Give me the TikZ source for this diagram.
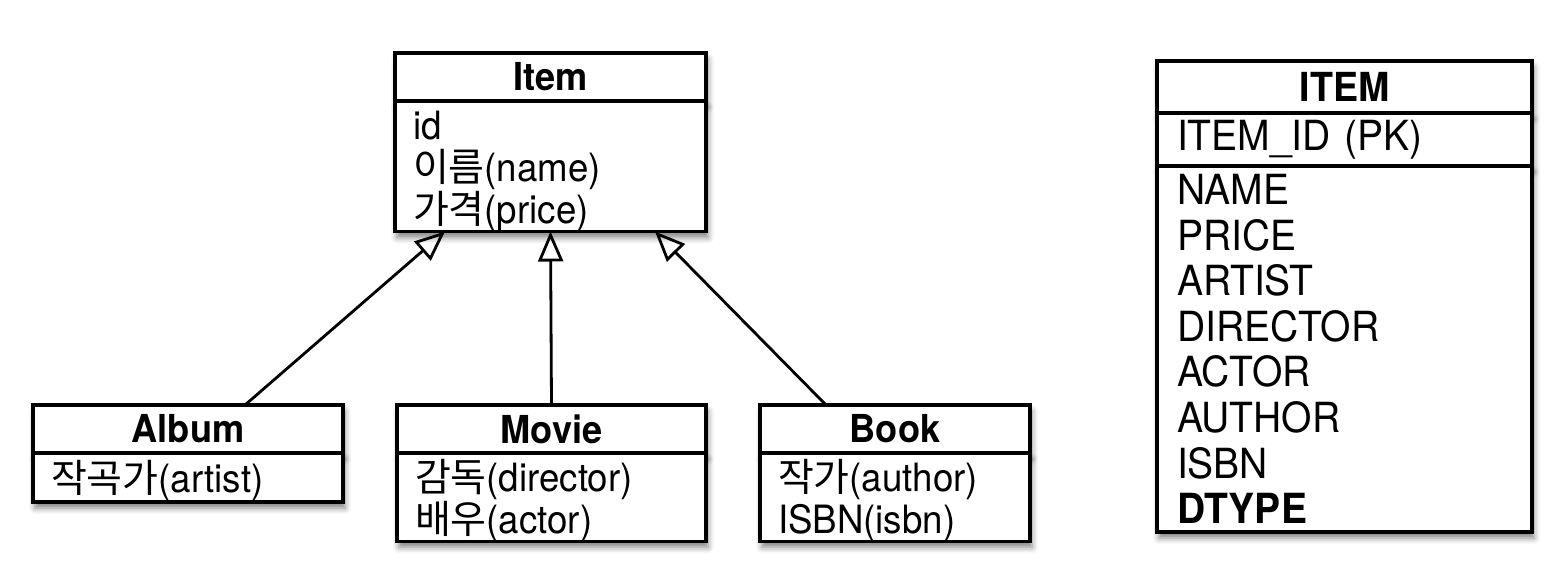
\documentclass[tikz,border=0pt]{standalone}
\usepackage{fontspec}
\setmainfont[FakeStretch=0.94]{TeX Gyre Heros}
\newfontfamily\kr{Noto Sans CJK KR}
\usetikzlibrary{arrows.meta,shadows.blur}
\tikzset{
  box/.style={draw=black, line width=3.2pt, fill=white, anchor=north west,
    inner sep=0pt, outer sep=0pt,
    blur shadow={shadow xshift=2pt, shadow yshift=-6pt, shadow blur radius=6pt, shadow opacity=50}},
  head/.style={box, font=\fontsize{38.5}{42}\selectfont\bfseries, align=center, minimum height=48pt},
  thead/.style={box, font=\fontsize{40}{43}\selectfont\bfseries, align=center, minimum height=52pt},
  body/.style={box, font=\fontsize{39}{42}\selectfont, align=left, inner xsep=18pt,
    execute at begin node={\rule{0pt}{38pt}}},
  tbody/.style={box, font=\fontsize{41.5}{45.6}\selectfont, align=left, inner xsep=20pt},
  gen/.style={draw=black, line width=2.8pt, -{Triangle[open, length=30pt, width=25pt]}}
}
\begin{document}
\begin{tikzpicture}[x=1pt,y=-1pt]
\useasboundingbox (0,0) rectangle (1560,576);
% Item class
\node[head, minimum width=311pt] (itemH) at (395,53) {Item};
\node[body, text width=275pt, minimum height=126pt] (itemB) at (395,101)
  {id\\{\kr 이름}(name)\\{\kr 가격}(price)};
% Album
\node[head, minimum width=310pt] (albumH) at (33,405) {Album};
\node[body, text width=274pt, minimum height=49pt] (albumB) at (33,453)
  {{\kr 작곡가}(artist)};
% Movie
\node[head, minimum width=309pt] (movieH) at (397,405) {Movie};
\node[body, text width=273pt, minimum height=84pt] (movieB) at (397,453)
  {{\kr 감독}(director)\\{\kr 배우}(actor)};
% Book
\node[head, minimum width=270pt] (bookH) at (760,405) {Book};
\node[body, text width=234pt, minimum height=84pt] (bookB) at (760,453)
  {{\kr 작가}(author)\\ISBN(isbn)};
% ITEM table
\node[thead, minimum width=375pt] (tabH) at (1157,61) {ITEM};
\node[tbody, text width=335pt, minimum height=53pt] (tabPK) at (1157,113) {ITEM\_ID (PK)};
\node[tbody, text width=335pt, minimum height=366pt] (tabB) at (1157,166)
  {NAME\\PRICE\\ARTIST\\DIRECTOR\\ACTOR\\AUTHOR\\ISBN\\\textbf{DTYPE}};
% generalizations
\draw[gen] ([xshift=57pt]albumH.north) -- ([xshift=-105.5pt]itemB.south);
\draw[gen] (movieH.north) -- (itemB.south);
\draw[gen] ([xshift=-69pt]bookH.north) -- ([xshift=104.5pt]itemB.south);
\end{tikzpicture}
\end{document}
